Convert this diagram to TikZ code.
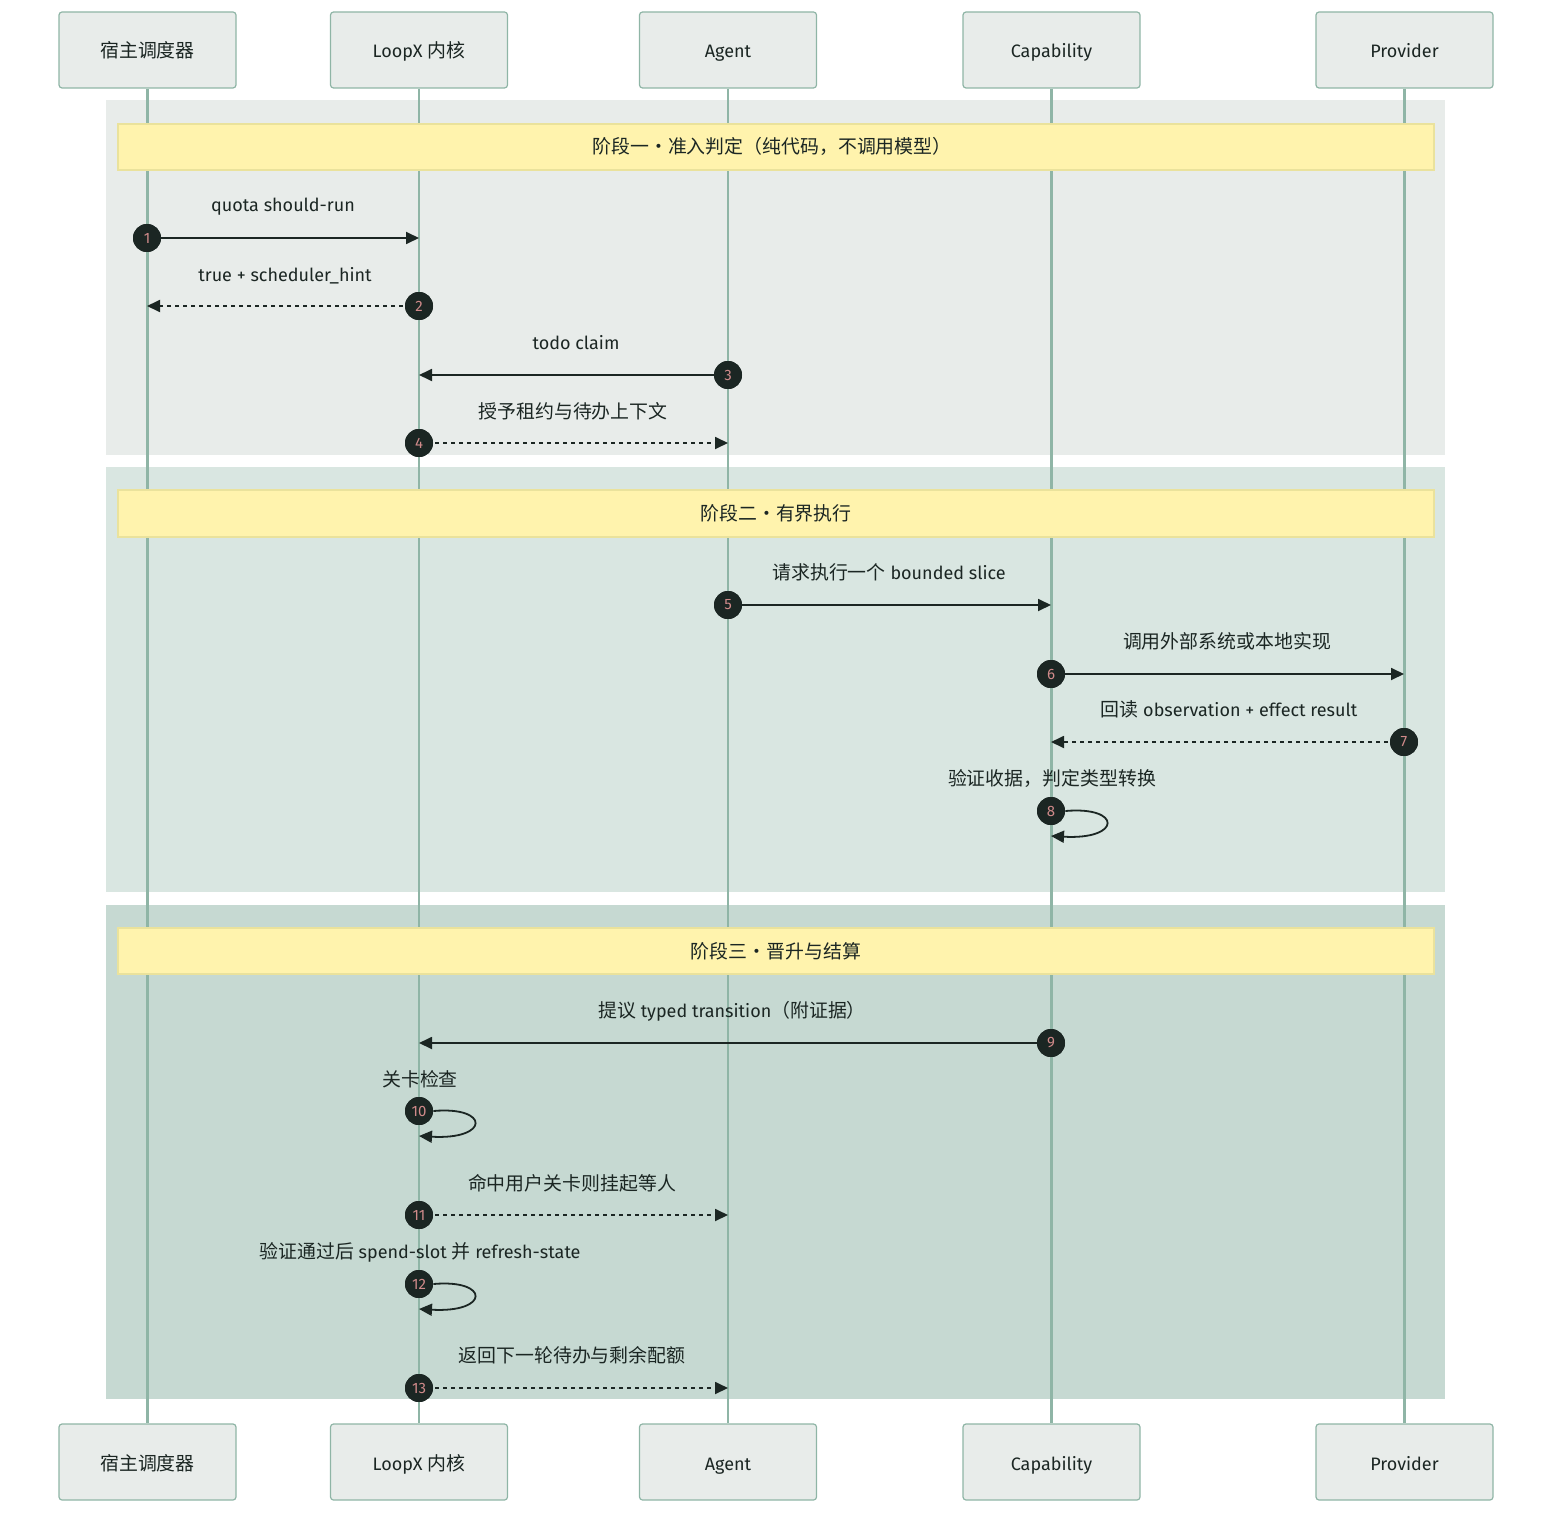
\documentclass[tikz,border=0pt]{standalone}
\usepackage{fontspec}
\setmainfont{Fira Sans}
\newfontfamily\cjk[Scale=1.05]{Noto Sans CJK SC}
\newcommand\zh[1]{{\cjk #1}}
\usetikzlibrary{arrows.meta}
\definecolor{boxfill}{HTML}{E8ECEA}
\definecolor{boxline}{HTML}{8FB5A6}
\definecolor{secA}{HTML}{E8ECEA}
\definecolor{secB}{HTML}{D9E6E1}
\definecolor{secC}{HTML}{C6D9D2}
\definecolor{notefill}{HTML}{FFF3AD}
\definecolor{noteline}{HTML}{EAE29C}
\definecolor{ink}{HTML}{1B2623}
\definecolor{numc}{HTML}{D08A8A}
\tikzset{
  actor/.style={draw=boxline, fill=boxfill, line width=0.6pt, rounded corners=1.5pt,
    minimum width=88.5pt, minimum height=38pt, inner sep=0pt, text=ink,
    text height=9pt, text depth=1pt, font=\fontsize{9}{11}\selectfont},
  life/.style={draw=boxline, line width=1.1pt},
  section/.style={fill=#1, draw=none},
  note/.style={draw=noteline, fill=notefill, line width=0.6pt},
  notetext/.style={text=ink, text height=8pt, text depth=1pt, inner sep=0pt,
    font=\fontsize{9}{11}\selectfont},
  lbl/.style={text=ink, font=\fontsize{9}{11}\selectfont, inner sep=0pt,
    text height=7pt, text depth=2pt},
  msg/.style={draw=ink, line width=0.9pt, -{Triangle[length=6.5pt,width=6pt]}},
  reply/.style={msg, dash pattern=on 2pt off 2pt},
  num/.style={circle, fill=ink, minimum size=14pt, inner sep=0pt, text=numc,
    font=\fontsize{7.5}{8}\selectfont},
}
\begin{document}
\begin{tikzpicture}[x=0.5pt,y=-0.5pt]
\useasboundingbox (0,0) rectangle (1568,1530);
% sections
\fill[section=secA] (106,100) rectangle (1445,455);
\fill[section=secB] (106,467) rectangle (1445,892);
\fill[section=secC] (106,905) rectangle (1445,1399);
% actors
\foreach \i/\x/\t in {1/147.5/\zh{宿主调度器},2/419/LoopX \zh{内核},3/728/Agent,4/1051.5/Capability,5/1404.5/Provider}{
  \node[actor] (a\i) at (\x,50) {\t};
  \node[actor] (b\i) at (\x,1462) {\t};
  \draw[life] (a\i.south) -- (b\i.north);
}
% notes
\draw[note] (118,124) rectangle (1434,170);
\node[notetext] (t1) at (772,147) {\zh{阶段一·准入判定（纯代码，不调用模型）}};
\draw[note] (118,490) rectangle (1434,537);
\node[notetext] (t2) at (776,513) {\zh{阶段二·有界执行}};
\draw[note] (118,928) rectangle (1434,974);
\node[notetext] (t3) at (776,951) {\zh{阶段三·晋升与结算}};
% circles
\node[num] (n1) at (147,238) {1};
\node[num] (n2) at (419,306) {2};
\node[num] (n3) at (728,375) {3};
\node[num] (n4) at (419,443) {4};
\node[num] (n5) at (728,605) {5};
\node[num] (n6) at (1051,674) {6};
\node[num] (n7) at (1404,742) {7};
\node[num] (n8) at (1051,811) {8};
\node[num] (n9) at (1051,1043) {9};
\node[num] (n10) at (419,1111) {10};
\node[num] (n11) at (419,1215) {11};
\node[num] (n12) at (419,1284) {12};
\node[num] (n13) at (419,1388) {13};
% endpoints
\coordinate (e1) at (419,238);
\coordinate (e2) at (147,306);
\coordinate (e3) at (419,375);
\coordinate (e4) at (728,443);
\coordinate (e5) at (1051,605);
\coordinate (e6) at (1404,674);
\coordinate (e7) at (1051,742);
\coordinate (e8) at (1051,836);
\coordinate (e9) at (419,1043);
\coordinate (e10) at (419,1136);
\coordinate (e11) at (728,1215);
\coordinate (e12) at (419,1309);
\coordinate (e13) at (728,1388);
% messages
\draw[msg] (n1.center) -- (e1);
\draw[reply] (n2.center) -- (e2);
\draw[msg] (n3.center) -- (e3);
\draw[reply] (n4.center) -- (e4);
\draw[msg] (n5.center) -- (e5);
\draw[msg] (n6.center) -- (e6);
\draw[reply] (n7.center) -- (e7);
\draw[msg] (n8.east) .. controls (1122,806) and (1122,840) .. (e8);
\draw[msg] (n9.center) -- (e9);
\draw[msg] (n10.east) .. controls (490,1106) and (490,1140) .. (e10);
\draw[reply] (n11.center) -- (e11);
\draw[msg] (n12.east) .. controls (490,1279) and (490,1313) .. (e12);
\draw[reply] (n13.center) -- (e13);
% redraw circles on top
\foreach \k in {1,...,13}{ \node[num] at (n\k) {\k}; }
% labels
\node[lbl] (l1) at (283,207) {quota should-run};
\node[lbl] (l2) at (285,276) {true + scheduler\_hint};
\node[lbl] (l3) at (576,344) {todo claim};
\node[lbl] (l4) at (573,413) {\zh{授予租约与待办上下文}};
\node[lbl] (l5) at (889,574) {\zh{请求执行一个} bounded slice};
\node[lbl] (l6) at (1227,643) {\zh{调用外部系统或本地实现}};
\node[lbl] (l7) at (1229,711) {\zh{回读} observation + effect result};
\node[lbl] (l8) at (1052,780) {\zh{验证收据，判定类型转换}};
\node[lbl] (l9) at (732,1012) {\zh{提议} typed transition\zh{（附证据）}};
\node[lbl] (l10) at (420,1081) {\zh{关卡检查}};
\node[lbl] (l11) at (572,1185) {\zh{命中用户关卡则挂起等人}};
\node[lbl] (l12) at (420,1253) {\zh{验证通过后} spend-slot \zh{并} refresh-state};
\node[lbl] (l13) at (572,1357) {\zh{返回下一轮待办与剩余配额}};
\end{tikzpicture}
\end{document}
